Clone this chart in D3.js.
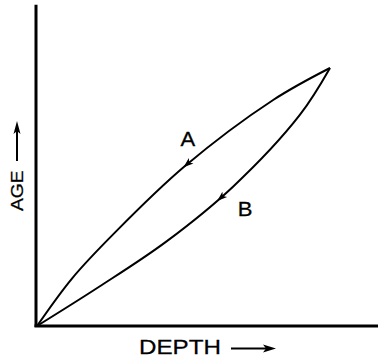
<!DOCTYPE html>
<html><head><meta charset="utf-8">
<script src="https://cdn.jsdelivr.net/npm/d3@7"></script>
<style>html,body{margin:0;padding:0;background:#fff;}svg{display:block;font-family:"Liberation Sans",Arial,sans-serif;}</style>
</head><body>
<script>
// Curve data (depth, age) in relative units; peak at (100,100)
const curveA = [[0,0],[12,18.5],[26.4,36.0],[50.3,61.8],[80.6,87.6],[100,100]];
const curveB = [[0,0],[21.2,15.2],[44.1,32.7],[66.9,54.0],[89.7,81.8],[100,100]];
const seriesNames = ["A","B"];
const arrowDepth = [50, 61.5];          // where the direction arrows sit on each curve
const labelPos = [[51.5,69.8],[71,42.6]];  // label anchors (depth, age)
const axisMax = [116.5, 124.5];          // extent of depth / age axes
const axisTitles = ["DEPTH","AGE"];

const W=378,H=361;
const x = d3.scaleLinear().domain([0,100]).range([37,330]);
const y = d3.scaleLinear().domain([0,100]).range([326,68]);

const svg = d3.select("body").append("svg").attr("width",W).attr("height",H);

// axes
svg.append("line").attr("x1",x(0)-1).attr("x2",x(0)-1).attr("y1",y(0)+1).attr("y2",y(axisMax[1]))
  .attr("stroke","#000").attr("stroke-width",3);
svg.append("line").attr("x1",x(0)-2.5).attr("x2",x(axisMax[0])).attr("y1",y(0)).attr("y2",y(0))
  .attr("stroke","#000").attr("stroke-width",3);

const line = d3.line().x(d=>x(d[0])).y(d=>y(d[1])).curve(d3.curveCatmullRom.alpha(0.5));
const curves=[curveA,curveB];
curves.forEach((c,i)=>{
  const p = svg.append("path").attr("d",line(c)).attr("fill","none").attr("stroke","#000").attr("stroke-width",2);
  const node=p.node(), L=node.getTotalLength();
  const tx = x(arrowDepth[i]);
  let lo=0,hi=L;
  for(let k=0;k<40;k++){const m=(lo+hi)/2; if(node.getPointAtLength(m).x<tx) lo=m; else hi=m;}
  const pt=node.getPointAtLength(lo), pb=node.getPointAtLength(lo+3);
  const ang=Math.atan2(pt.y-pb.y, pt.x-pb.x)*180/Math.PI; // direction toward origin
  svg.append("path").attr("d","M0,0 L-10,-3.6 L-7.5,0 L-10,3.6 Z")
    .attr("transform",`translate(${pt.x},${pt.y}) rotate(${ang})`).attr("fill","#000");
  svg.append("text").attr("transform",`translate(${x(labelPos[i][0])},${y(labelPos[i][1])}) scale(1.1,1)`)
    .attr("text-anchor","middle").attr("font-size",20).attr("fill","#000")
    .attr("stroke","#000").attr("stroke-width",0.3).text(seriesNames[i]);
});

// x-axis title
svg.append("text").attr("transform","translate(139,354) scale(1.21,1)").attr("font-size",20)
  .attr("stroke","#000").attr("stroke-width",0.25).text(axisTitles[0]);
svg.append("line").attr("x1",231).attr("x2",268).attr("y1",348.5).attr("y2",348.5).attr("stroke","#000").attr("stroke-width",2);
svg.append("path").attr("d","M276,348.5 L263,344.5 L266,348.5 L263,352.5 Z").attr("fill","#000");

// y-axis title
svg.append("text").attr("transform","translate(23,211) rotate(-90) scale(1.2,1)").attr("font-size",16)
  .attr("stroke","#000").attr("stroke-width",0.25).text(axisTitles[1]);
svg.append("line").attr("x1",17).attr("x2",17).attr("y1",161).attr("y2",130).attr("stroke","#000").attr("stroke-width",2);
svg.append("path").attr("d","M17,121 L13.5,134 L17,131 L20.5,134 Z").attr("fill","#000");
</script>
</body></html>
